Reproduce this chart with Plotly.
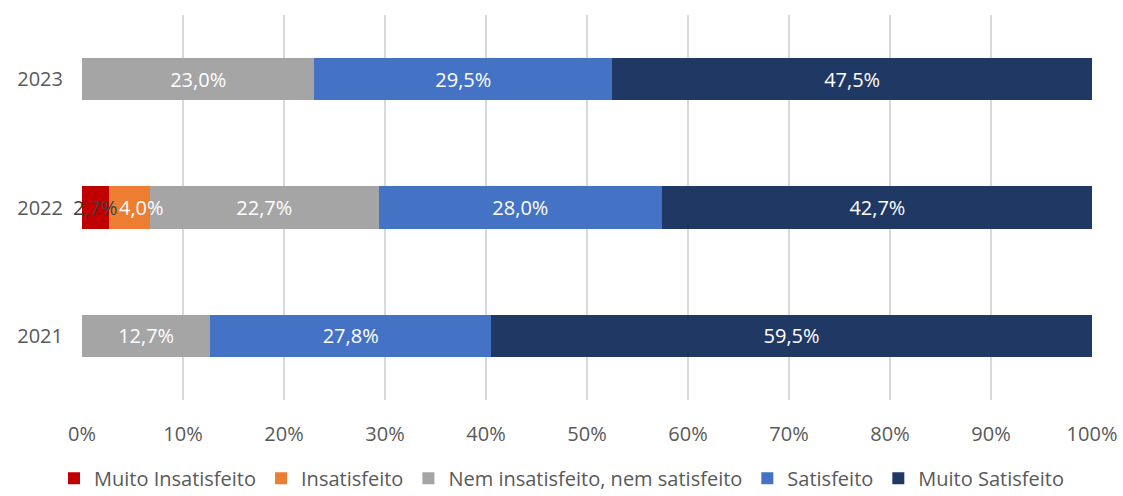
import plotly.graph_objects as go

years = ["2021", "2022", "2023"]
series_names = ["Muito Insatisfeito", "Insatisfeito", "Nem insatisfeito, nem satisfeito", "Satisfeito", "Muito Satisfeito"]
muito_insatisfeito = [None, 2.7, None]
insatisfeito = [None, 4.0, None]
nem = [12.7, 22.7, 23.0]
satisfeito = [27.8, 28.0, 29.5]
muito_satisfeito = [59.5, 42.7, 47.5]
colors = ["#C00000", "#ED7D31", "#A5A5A5", "#4472C4", "#1F3864"]
x_ticks = [0, 10, 20, 30, 40, 50, 60, 70, 80, 90, 100]

FONT = "Open Sans"
values = [muito_insatisfeito, insatisfeito, nem, satisfeito, muito_satisfeito]

def fmt(v):
    return "" if v is None else f"{v:.1f}%".replace(".", ",")

fig = go.Figure()
for i, (name, vals, col) in enumerate(zip(series_names, values, colors)):
    small = (i <= 1)
    fig.add_trace(go.Bar(
        y=years, x=vals, name=name, orientation="h",
        marker=dict(color=col, line=dict(width=0)),
        text=[fmt(v) for v in vals],
        textposition="none" if small else "inside",
        insidetextanchor="middle", textangle=0, constraintext="none",
        textfont=dict(color="white", size=20, family=FONT),
        hoverinfo="skip",
    ))

# labels of the two thin segments, which overflow their bars (category index as y)
for idx, (v1, v2) in enumerate(zip(muito_insatisfeito, insatisfeito)):
    if v1 is not None:
        fig.add_annotation(x=v1 / 2, y=idx, text=fmt(v1), showarrow=False,
                           font=dict(color="#404040", size=20, family=FONT))
    if v2 is not None:
        fig.add_annotation(x=(v1 or 0), y=idx, text=fmt(v2), showarrow=False,
                           xanchor="left", xshift=8,
                           font=dict(color="white", size=20, family=FONT))

fig.update_layout(
    barmode="stack", bargap=0.67,
    width=1123, height=496,
    margin=dict(l=82, r=31, t=15, b=96),
    plot_bgcolor="white", paper_bgcolor="white",
    font=dict(family=FONT, color="#595959", size=20),
    legend=dict(orientation="h", x=0.5, xanchor="center", xref="container",
                y=0.036, yanchor="middle", yref="container",
                font=dict(size=20, color="#595959", family=FONT),
                itemwidth=30, traceorder="normal"),
    showlegend=True,
)
fig.update_xaxes(range=[0, 100], tickvals=x_ticks, ticktext=[f"{t}%" for t in x_ticks],
                 showgrid=True, gridcolor="#D9D9D9", gridwidth=1.5, zeroline=False,
                 ticks="outside", ticklen=16, tickcolor="rgba(0,0,0,0)", automargin=False,
                 tickfont=dict(size=20, color="#595959", family=FONT), showline=False)
fig.update_yaxes(type="category", categoryorder="array", categoryarray=years,
                 range=[-0.5, 2.5], showgrid=False, automargin=False,
                 ticks="outside", ticklen=14, tickcolor="rgba(0,0,0,0)",
                 tickfont=dict(size=20, color="#595959", family=FONT), showline=False)

fig.write_html("out.html")
